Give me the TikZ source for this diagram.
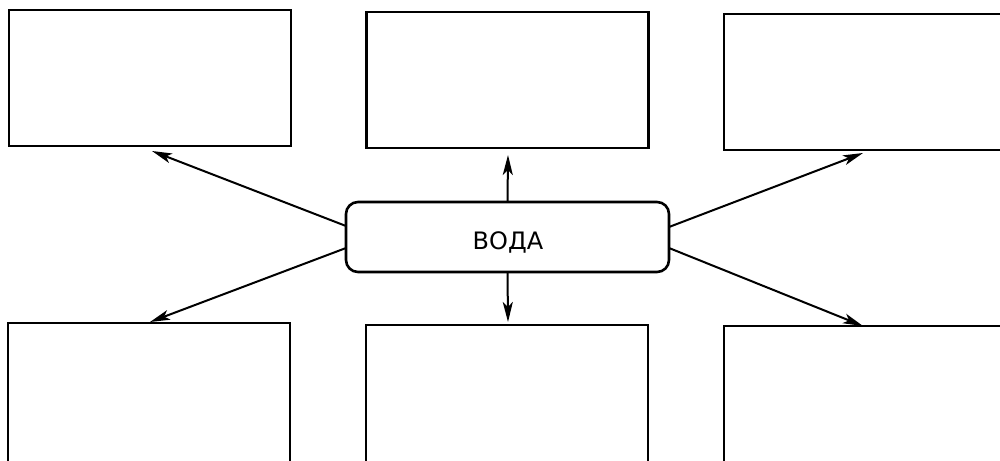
\documentclass[tikz,border=0pt]{standalone}
\usepackage{fontspec}
\setmainfont{DejaVu Sans}
\usetikzlibrary{arrows.meta,calc}
\begin{document}
\begin{tikzpicture}[x=1pt,y=-1pt,
  emptybox/.style={draw,line width=2.6pt,minimum width=282pt,minimum height=136pt,inner sep=0pt,outer sep=0pt},
  lowbox/.style={emptybox,minimum height=150pt},
  centerbox/.style={draw,line width=2.6pt,rounded corners=12pt,minimum width=323pt,minimum height=70pt,inner sep=0pt,outer sep=0pt},
  centertext/.style={font=\fontsize{24}{28}\selectfont,inner sep=0pt},
  link/.style={line width=2pt,-{Stealth[length=20pt,width=10pt,inset=5pt]}}]
\clip (0,0) rectangle (1000,460);
\fill[white] (0,0) rectangle (1000,460);
\node[emptybox] (tl) at (150,78) {};
\node[emptybox] (tm) at (507.5,80) {};
\node[emptybox] (tr) at (865,82) {};
\node[lowbox] (bl) at (149,398) {};
\node[lowbox] (bm) at (507,400) {};
\node[lowbox] (br) at (865,401) {};
\node[centerbox] (c) at (507.5,237) {};
\node[centertext] (ct) at (508,242) {ВОДА};
\coordinate (tlend) at ($(tl.south)+(2,5)$);
\coordinate (tmend) at ($(tm.south)+(0.5,7)$);
\coordinate (trend) at ($(tr.south)+(-2,3)$);
\coordinate (blend) at ($(bl.north)+(1,-1)$);
\coordinate (bmend) at ($(bm.north)+(1,-3)$);
\coordinate (brend) at ($(br.north)+(-2,0)$);
\coordinate (cl1) at ($(c.west)+(0,-11)$);
\coordinate (cl2) at ($(c.west)+(0,11)$);
\coordinate (cr1) at ($(c.east)+(0,-10)$);
\coordinate (cr2) at ($(c.east)+(0,11)$);
\draw[link] (cl1) -- (tlend);
\draw[link] (cl2) -- (blend);
\draw[link] (cr1) -- (trend);
\draw[link] (cr2) -- (brend);
\draw[link] (c.north) -- (tmend);
\draw[link] (c.south) -- (bmend);
\end{tikzpicture}
\end{document}
